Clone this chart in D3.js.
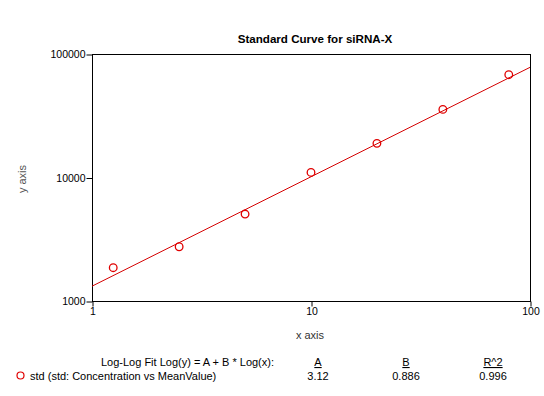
<!DOCTYPE html>
<html>
<meta charset="utf-8">
<style>
body { margin: 0; background: #fff; }
text { font-family: Arial, 'Liberation Sans', sans-serif; }
</style>
<body>
<svg id="chart" width="544" height="396"></svg>
<script src="https://d3js.org/d3.v7.min.js"></script>
<script>

// standard points (concentration vs mean value)
var concentration = [1.25, 2.5, 5, 10, 20, 40, 80];
var meanValue = [1860, 2750, 5060, 11000, 18900, 35600, 68000];

// log-log fit coefficients
var fitA = 3.12, fitB = 0.886, fitR2 = 0.996;

var xTicks = [1, 10, 100];
var yTicks = [1000, 10000, 100000];

var svg = d3.select("#chart"),
    margin = {top: 54, right: 14, bottom: 95, left: 92},
    width = +svg.attr("width") - margin.left - margin.right,
    height = +svg.attr("height") - margin.top - margin.bottom;

var x = d3.scaleLog().domain([1, 100]).range([0, width]),
    y = d3.scaleLog().domain([1000, 100000]).range([height, 0]);

var g = svg.append("g")
    .attr("transform", "translate(" + margin.left + "," + margin.top + ")");

svg.append("defs").append("clipPath")
    .attr("id", "clip")
    .append("rect")
    .attr("width", width)
    .attr("height", height);

// frame
g.append("rect")
    .attr("x", 0.5).attr("y", 0.5)
    .attr("width", width).attr("height", height)
    .attr("fill", "none")
    .attr("stroke", "#000");

var xAxis = d3.axisBottom(x).tickValues(xTicks).tickFormat(d3.format("d")).tickSizeInner(5).tickSizeOuter(0);
var yAxis = d3.axisLeft(y).tickValues(yTicks).tickFormat(d3.format("d")).tickSizeInner(6).tickSizeOuter(0);

g.append("g")
    .attr("transform", "translate(0.5," + (height + 0.5) + ")")
    .call(xAxis)
    .call(function(s) { s.select(".domain").remove(); })
    .selectAll("text")
    .attr("font-size", "10.5px")
    .attr("font-family", "Arial, 'Liberation Sans', sans-serif")
    .attr("fill", "#000")
    .attr("dy", "0.95em")
    .attr("y", 4);

g.append("g")
    .attr("transform", "translate(0.5,0.5)")
    .call(yAxis)
    .call(function(s) { s.select(".domain").remove(); })
    .selectAll("text")
    .attr("font-size", "10.5px")
    .attr("font-family", "Arial, 'Liberation Sans', sans-serif")
    .attr("fill", "#000")
    .attr("x", -7);

// fit line
var fitLine = d3.line()
    .x(function(d) { return x(d); })
    .y(function(d) { return y(Math.pow(10, fitA + fitB * Math.log10(d))); });

g.append("path")
    .datum(x.domain())
    .attr("clip-path", "url(#clip)")
    .attr("fill", "none")
    .attr("stroke", "#d40000")
    .attr("stroke-width", 1)
    .attr("d", fitLine);

g.selectAll(".pt")
    .data(concentration)
    .enter().append("circle")
    .attr("class", "pt")
    .attr("cx", function(d) { return x(d); })
    .attr("cy", function(d, i) { return y(meanValue[i]); })
    .attr("r", 3.8)
    .attr("fill", "none")
    .attr("stroke", "#e00000")
    .attr("stroke-width", 1.3);

// title and axis labels
svg.append("text")
    .attr("x", 315).attr("y", 43)
    .attr("text-anchor", "middle")
    .attr("font-size", "11.6px")
    .attr("font-weight", "bold")
    .text("Standard Curve for siRNA-X");

svg.append("text")
    .attr("x", 310).attr("y", 339)
    .attr("text-anchor", "middle")
    .attr("font-size", "11px")
    .attr("fill", "#333")
    .text("x axis");

svg.append("text")
    .attr("transform", "translate(26,179) rotate(-90)")
    .attr("text-anchor", "middle")
    .attr("font-size", "11px")
    .attr("fill", "#555")
    .text("y axis");

// fit legend
var cols = [318, 406, 493];
var heads = ["A", "B", "R^2"];
var vals = [fitA.toFixed(2), fitB.toFixed(3), fitR2.toFixed(3)];

svg.append("text")
    .attr("x", 274).attr("y", 366)
    .attr("text-anchor", "end")
    .attr("font-size", "11px")
    .text("Log-Log Fit Log(y) = A + B * Log(x):");

svg.selectAll(".head")
    .data(heads)
    .enter().append("text")
    .attr("class", "head")
    .attr("x", function(d, i) { return cols[i]; })
    .attr("y", 366)
    .attr("text-anchor", "middle")
    .attr("font-size", "11px")
    .attr("text-decoration", "underline")
    .text(function(d) { return d; });

svg.selectAll(".val")
    .data(vals)
    .enter().append("text")
    .attr("class", "val")
    .attr("x", function(d, i) { return cols[i]; })
    .attr("y", 380)
    .attr("text-anchor", "middle")
    .attr("font-size", "11px")
    .text(function(d) { return d; });

svg.append("circle")
    .attr("cx", 20.5).attr("cy", 375.5)
    .attr("r", 3.5)
    .attr("fill", "none")
    .attr("stroke", "#e00000")
    .attr("stroke-width", 1.2);

svg.append("text")
    .attr("x", 30).attr("y", 380)
    .attr("font-size", "11px")
    .text("std (std: Concentration vs MeanValue)");

</script>
</body>
</html>
